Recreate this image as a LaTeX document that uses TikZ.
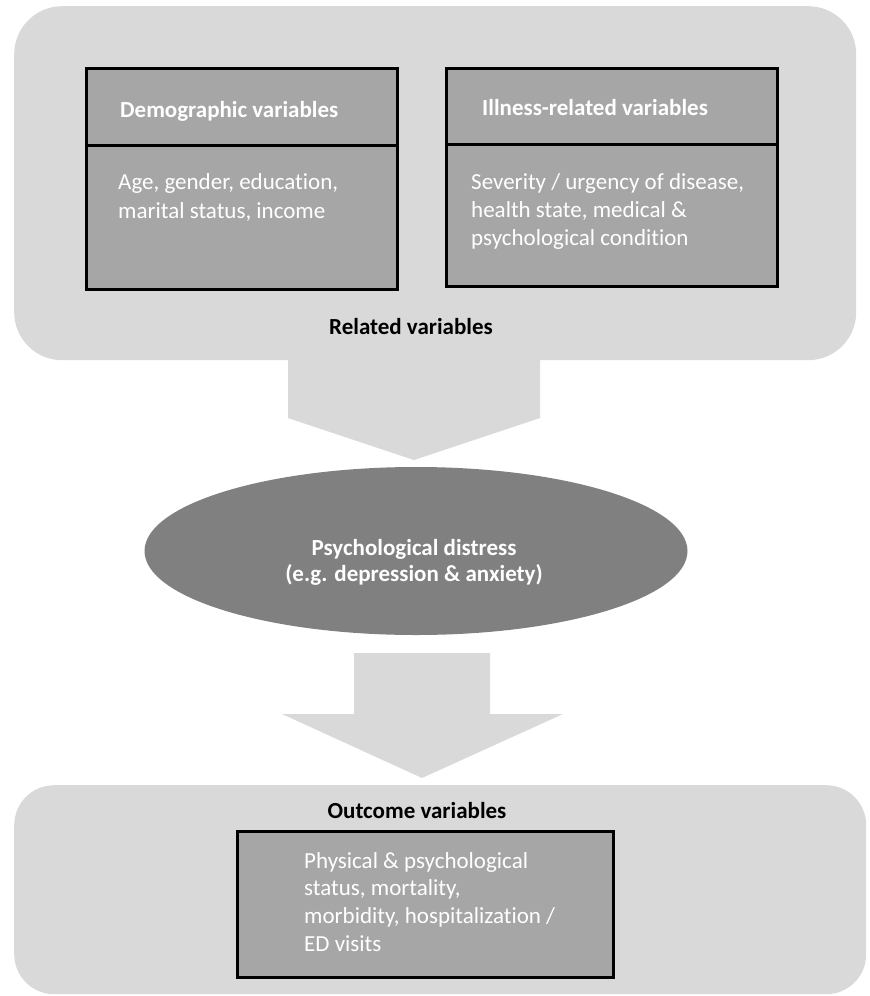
\documentclass[tikz,border=0pt]{standalone}
\usepackage{fontspec}
\setmainfont{Carlito}[Ligatures=NoCommon]
\usetikzlibrary{shapes.geometric}
\definecolor{outerg}{HTML}{D9D9D9}
\definecolor{boxg}{HTML}{A6A6A6}
\definecolor{ellg}{HTML}{808080}
\begin{document}
\begin{tikzpicture}[x=1pt,y=-1pt,
  outerbox/.style={fill=outerg,draw=none,inner sep=0,anchor=north west},
  varbox/.style={fill=boxg,draw=black,line width=2.6pt,inner sep=0,anchor=north west},
  headtxt/.style={text=white,font=\fontsize{23}{29}\selectfont\bfseries,inner sep=0,anchor=west},
  bodytxt/.style={text=white,font=\fontsize{23}{29}\selectfont,inner sep=0,anchor=north west,align=left},
  titletxt/.style={text=black,font=\fontsize{23}{29}\selectfont\bfseries,inner sep=0},
  blockarrow/.style={fill=outerg,draw=none}]
\useasboundingbox (0,0) rectangle (870,996);
% top group
\node[outerbox,rounded corners=48pt,minimum width=842pt,minimum height=354pt] (topgrp) at (14,6) {};
% arrow 1
\fill[blockarrow] (288,340) -- (540,340) -- (540,418) -- (414,460) -- (288,418) -- cycle;
% demographic box
\node[varbox,minimum width=311pt,minimum height=77pt] (demhead) at (85,67) {};
\node[varbox,minimum width=311pt,minimum height=144pt] (dembody) at (85,144) {};
\node[headtxt] (demtitle) at (120,111) {Demographic variables};
\node[bodytxt] (demtext) at (118,173) {Age, gender, education,\\marital status, income};
% illness box
\node[varbox,minimum width=331pt,minimum height=76pt] (illhead) at (445,67) {};
\node[varbox,minimum width=331pt,minimum height=142pt] (illbody) at (445,143) {};
\node[headtxt] (illtitle) at (482,108) {Illness-related variables};
\node[bodytxt,font=\fontsize{23}{28}\selectfont] (illtext) at (471,173) {Severity / urgency of disease,\\health state, medical \&\\psychological condition};
\node[titletxt] (reltitle) at (411,327) {Related variables};
% ellipse
\node[ellipse,fill=ellg,draw=none,minimum width=543pt,minimum height=168pt,inner sep=0] (distress) at (416,551) {};
\node[text=white,font=\fontsize{23}{26}\selectfont\bfseries,align=center,inner sep=0] (distresstxt) at (414,562) {Psychological distress\\(e.g. depression \& anxiety)};
% arrow 2
\fill[blockarrow] (354,653) -- (490,653) -- (490,714) -- (563,714) -- (422,778) -- (282,714) -- (354,714) -- cycle;
% bottom group
\node[outerbox,rounded corners=40pt,minimum width=852pt,minimum height=209pt] (botgrp) at (14,785) {};
\node[titletxt] (outtitle) at (417,811) {Outcome variables};
\node[varbox,minimum width=376pt,minimum height=146pt] (outbox) at (236,830) {};
\node[bodytxt,font=\fontsize{23}{27.7}\selectfont] (outtext) at (304,852) {Physical \& psychological\\status, mortality,\\morbidity, hospitalization /\\ED visits};
\end{tikzpicture}
\end{document}
